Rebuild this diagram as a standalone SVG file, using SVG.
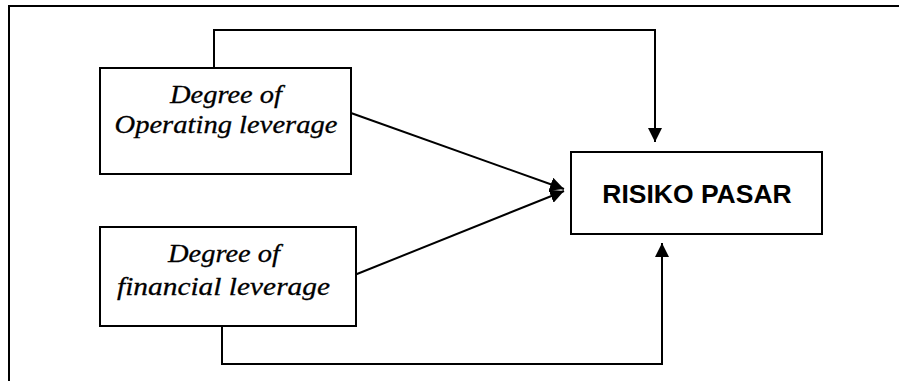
<svg xmlns="http://www.w3.org/2000/svg" width="899" height="381" viewBox="0 0 899 381">
<defs>
<style>
.box{fill:#fff;stroke:#000;stroke-width:2}
.ln{fill:none;stroke:#000;stroke-width:2}
.it{font-family:"Liberation Serif","Times New Roman",serif;font-style:italic;font-size:26px;text-anchor:middle;fill:#000;stroke:#000;stroke-width:0.3}
.bd{font-family:"Liberation Sans",Arial,sans-serif;font-weight:bold;font-size:26.5px;text-anchor:middle;fill:#000}
</style>
<marker id="ah" markerUnits="userSpaceOnUse" markerWidth="14" markerHeight="14" viewBox="0 0 14 14" refX="14" refY="7" orient="auto">
<path d="M0,0 L14,7 L0,14 Z" fill="#000"/>
</marker>
</defs>
<rect width="899" height="381" fill="#fff"/>
<path class="ln" d="M9,381 V6 H899"/>
<g id="connectors">
<path class="ln" d="M214,68 V30 H655 V142" marker-end="url(#ah)"/>
<path class="ln" d="M222,326 V364 H662 V243" marker-end="url(#ah)"/>
<line class="ln" x1="351" y1="113" x2="564" y2="189" marker-end="url(#ah)"/>
<line class="ln" x1="347" y1="278" x2="564" y2="191" marker-end="url(#ah)"/>
</g>
<g id="dol">
<rect class="box" x="100" y="68" width="251" height="106"/>
<text class="it" x="226" y="103" textLength="112" lengthAdjust="spacingAndGlyphs">Degree of</text>
<text class="it" x="226" y="133" textLength="223" lengthAdjust="spacingAndGlyphs">Operating leverage</text>
</g>
<g id="dfl">
<rect class="box" x="100" y="227" width="256" height="99"/>
<text class="it" x="224" y="262" textLength="112" lengthAdjust="spacingAndGlyphs">Degree of</text>
<text class="it" x="223.5" y="295" textLength="213" lengthAdjust="spacingAndGlyphs">financial leverage</text>
</g>
<g id="risiko">
<rect class="box" x="571" y="152" width="251" height="82"/>
<text class="bd" x="697" y="203">RISIKO PASAR</text>
</g>
</svg>
